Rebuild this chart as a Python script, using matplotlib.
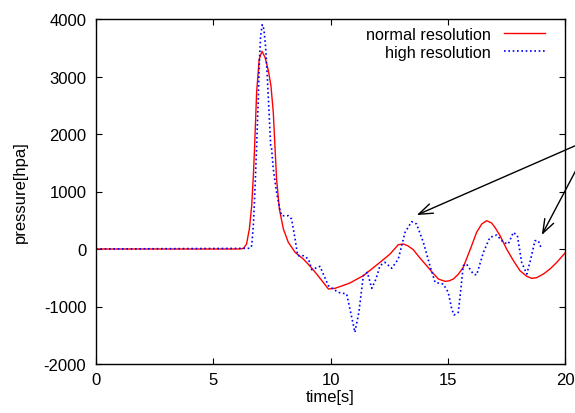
import matplotlib
matplotlib.use("Agg")
import matplotlib.pyplot as plt

plt.rcParams['font.family'] = ['Liberation Sans', 'DejaVu Sans']
plt.rcParams['axes.unicode_minus'] = False

# normal resolution series
normal_t = [0, 6.0, 6.2, 6.3, 6.42, 6.54, 6.64, 6.71, 6.76, 6.85, 6.96, 7.08, 7.21, 7.35,
            7.46, 7.56, 7.63, 7.70, 7.82, 7.99, 8.20, 8.49, 8.84, 9.13, 9.41, 9.65, 9.91,
            10.19, 10.5, 10.83, 11.1, 11.4, 11.75, 12.11, 12.54, 12.75, 12.89, 13.11, 13.3,
            13.53, 13.8, 14.10, 14.35, 14.60, 14.88, 15.05, 15.24, 15.45, 15.66, 16.02,
            16.23, 16.45, 16.66, 16.87, 17.01, 17.23, 17.51, 17.80, 18.08, 18.37, 18.58,
            18.79, 19.08, 19.36, 19.65, 20.0]
normal_p = [0, 0, 3, 15, 87, 348, 753, 1275, 1739, 2725, 3304, 3438, 3333, 3101,
            2839, 2377, 1797, 1217, 696, 348, 116, -58, -174, -300, -435, -560, -696,
            -684, -640, -591, -530, -464, -350, -232, -87, 10, 75, 87, 55,
            -12, -150, -290, -410, -522, -562, -555, -522, -440, -319, 58,
            290, 435, 492, 452, 377, 232, 0, -203, -377, -475, -510,
            -499, -435, -348, -232, -70]

# high resolution series
high_t = [0, 6.57, 6.64, 6.71, 6.78, 6.85, 6.92, 6.96, 7.02, 7.09, 7.16, 7.24, 7.31, 7.38,
          7.45, 7.49, 7.56, 7.70, 7.85, 7.92, 8.20, 8.34, 8.49, 8.60, 8.84, 9.06, 9.20,
          9.55, 9.91, 10.33, 10.69, 10.86, 11.04, 11.21, 11.40, 11.57, 11.76, 11.94,
          12.11, 12.32, 12.61, 12.89, 13.18, 13.46, 13.67, 13.96, 14.24, 14.46, 14.81,
          15.02, 15.17, 15.27, 15.45, 15.56, 15.66, 15.80, 16.09, 16.23, 16.52, 16.80,
          17.09, 17.37, 17.58, 17.80, 17.97, 18.15, 18.37, 18.54, 18.72, 18.86, 19.00]
high_p = [0, 12, 58, 405, 1043, 1797, 2608, 3187, 3710, 3901, 3826, 3478, 2956, 2377,
          1797, 1739, 1391, 986, 666, 579, 579, 522, 174, -116, -116, -174, -360,
          -302, -638, -754, -783, -1101, -1449, -1101, -464, -406, -684, -522,
          -290, -232, -336, -174, 290, 475, 435, 116, -290, -580, -609,
          -754, -1043, -1148, -1101, -696, -290, -261, -435, -452, -58, 203,
          243, 116, 87, 290, 232, -232, -435, -174, 145, 145, 0]

x_ticks = [0, 5, 10, 15, 20]
y_ticks = [-2000, -1000, 0, 1000, 2000, 3000, 4000]

fig = plt.figure(figsize=(5.75, 4.14), dpi=100)
W, H = 575, 414
ax = fig.add_axes([96 / W, (H - 365) / H, 469 / W, 345 / H])

ax.plot(normal_t, normal_p, color='#ff0000', lw=1.0, label='normal resolution')
ax.plot(high_t, high_p, color='#0000ff', lw=1.2, linestyle=(0, (1, 1.6)),
        label='high resolution')

ax.set_xlim(0, 20)
ax.set_ylim(-2000, 4000)
ax.set_xticks(x_ticks)
ax.set_yticks(y_ticks)
ax.tick_params(direction='in', top=True, right=True, length=4, width=0.8,
               labelsize=12, colors='black')
ax.tick_params(axis='x', pad=6)
ax.tick_params(axis='y', pad=7)
for s in ax.spines.values():
    s.set_linewidth(1.0)

ax.set_xlabel('time[s]', fontsize=12, va='center')
ax.xaxis.set_label_coords(0.5, (365 - 398) / 345)
ax.set_ylabel('pressure[hpa]', fontsize=12, va='center')
ax.yaxis.set_label_coords((20 - 96) / 469, 0.5)

leg = ax.legend(loc='upper right', bbox_to_anchor=((545 - 96) / 469, (365 - 28) / 345),
                frameon=False, markerfirst=False, fontsize=11.7,
                handlelength=2.5, handletextpad=0.85, labelspacing=0.155,
                borderaxespad=0.0, borderpad=0.0)

arrow_kw = dict(arrowstyle='->,head_length=0.5,head_width=0.18', lw=1.0,
                color='black', mutation_scale=20, shrinkA=0, shrinkB=0)
ax.annotate('', xy=(13.68, 591), xytext=(21.19, 1930), arrowprops=arrow_kw,
            annotation_clip=False)
ax.annotate('', xy=(19.01, 243), xytext=(21.19, 1930), arrowprops=arrow_kw,
            annotation_clip=False)

fig.savefig('out.png', dpi=100)
